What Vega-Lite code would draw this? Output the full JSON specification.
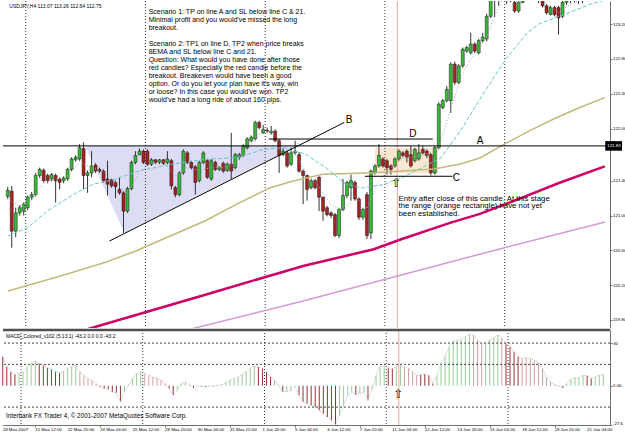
{
"$schema": "https://vega.github.io/schema/vega-lite/v6.json",
"padding": 0,
"background": "white",
"spacing": 2,
"bounds": "flush",
"config": {"view": {"stroke": null}, "font": "Liberation Sans", "axis": {"labelFont": "Liberation Sans", "labelFontSize": 4.4, "labelColor": "#000", "domainColor": "#707070", "tickColor": "#707070", "grid": false, "tickSize": 2, "labelPadding": 0.5, "labelOverlap": false}},
"datasets": {
"one": [{}],
"dates": [{"i":0,"t":"18 May 2007"},{"i":8,"t":"21 May 12:00"},{"i":16,"t":"22 May 20:00"},{"i":24,"t":"24 May 04:00"},{"i":32,"t":"25 May 12:00"},{"i":40,"t":"28 May 20:00"},{"i":48,"t":"30 May 04:00"},{"i":56,"t":"31 May 12:00"},{"i":64,"t":"1 Jun 20:00"},{"i":72,"t":"5 Jun 04:00"},{"i":80,"t":"6 Jun 12:00"},{"i":88,"t":"7 Jun 20:00"},{"i":96,"t":"11 Jun 04:00"},{"i":104,"t":"12 Jun 12:00"},{"i":112,"t":"13 Jun 20:00"},{"i":120,"t":"15 Jun 04:00"},{"i":128,"t":"18 Jun 12:00"},{"i":136,"t":"19 Jun 20:00"},{"i":144,"t":"21 Jun 04:00"}],
"candles": [
{"i":0,"o":121.22,"h":121.33,"l":121.19,"c":121.29},{"i":1,"o":121.28,"h":121.34,"l":120.63,"c":120.82},{"i":2,"o":120.82,"h":121.09,"l":120.75,"c":121.03},{"i":3,"o":121.03,"h":121.12,"l":121.0,"c":121.09},{"i":4,"o":121.05,"h":121.15,"l":121.0,"c":121.13},{"i":5,"o":121.09,"h":121.23,"l":121.06,"c":121.21},{"i":6,"o":121.21,"h":121.27,"l":121.18,"c":121.24},{"i":7,"o":121.24,"h":121.49,"l":121.22,"c":121.46},{"i":8,"o":121.46,"h":121.55,"l":121.43,"c":121.53},{"i":9,"o":121.52,"h":121.54,"l":121.38,"c":121.4},
{"i":10,"o":121.46,"h":121.48,"l":121.37,"c":121.4},{"i":11,"o":121.42,"h":121.49,"l":121.39,"c":121.47},{"i":12,"o":121.46,"h":121.48,"l":121.15,"c":121.4},{"i":13,"o":121.42,"h":121.44,"l":121.3,"c":121.38},{"i":14,"o":121.4,"h":121.45,"l":121.37,"c":121.43},{"i":15,"o":121.42,"h":121.55,"l":121.4,"c":121.53},{"i":16,"o":121.53,"h":121.67,"l":121.51,"c":121.65},{"i":17,"o":121.64,"h":121.69,"l":121.62,"c":121.67},{"i":18,"o":121.65,"h":121.82,"l":121.63,"c":121.78},{"i":19,"o":121.77,"h":121.84,"l":121.3,"c":121.46},
{"i":20,"o":121.46,"h":121.52,"l":121.26,"c":121.49},{"i":21,"o":121.49,"h":121.74,"l":121.44,"c":121.57},{"i":22,"o":121.58,"h":121.6,"l":121.49,"c":121.51},{"i":23,"o":121.53,"h":121.55,"l":121.49,"c":121.51},{"i":24,"o":121.51,"h":121.53,"l":121.38,"c":121.4},{"i":25,"o":121.42,"h":121.63,"l":121.23,"c":121.36},{"i":26,"o":121.41,"h":121.42,"l":121.32,"c":121.34},{"i":27,"o":121.38,"h":121.4,"l":121.2,"c":121.33},{"i":28,"o":121.3,"h":121.44,"l":121.24,"c":121.26},{"i":29,"o":121.26,"h":121.28,"l":120.8,"c":121.05},
{"i":30,"o":121.05,"h":121.33,"l":121.03,"c":121.31},{"i":31,"o":121.31,"h":121.63,"l":121.29,"c":121.61},{"i":32,"o":121.61,"h":121.74,"l":121.59,"c":121.69},{"i":33,"o":121.7,"h":121.77,"l":121.69,"c":121.74},{"i":34,"o":121.74,"h":121.76,"l":121.59,"c":121.61},{"i":35,"o":121.74,"h":121.76,"l":121.57,"c":121.59},{"i":36,"o":121.59,"h":121.66,"l":121.57,"c":121.64},{"i":37,"o":121.64,"h":121.65,"l":121.59,"c":121.61},{"i":38,"o":121.61,"h":121.65,"l":121.59,"c":121.64},{"i":39,"o":121.64,"h":121.65,"l":121.58,"c":121.6},
{"i":40,"o":121.61,"h":121.74,"l":121.59,"c":121.65},{"i":41,"o":121.63,"h":121.65,"l":121.3,"c":121.34},{"i":42,"o":121.32,"h":121.34,"l":121.21,"c":121.24},{"i":43,"o":121.24,"h":121.51,"l":121.22,"c":121.49},{"i":44,"o":121.49,"h":121.76,"l":121.47,"c":121.74},{"i":45,"o":121.72,"h":121.74,"l":121.59,"c":121.61},{"i":46,"o":121.61,"h":121.63,"l":121.53,"c":121.55},{"i":47,"o":121.56,"h":121.58,"l":121.24,"c":121.38},{"i":48,"o":121.4,"h":121.63,"l":121.38,"c":121.61},{"i":49,"o":121.61,"h":121.74,"l":121.59,"c":121.72},
{"i":50,"o":121.63,"h":121.65,"l":121.42,"c":121.44},{"i":51,"o":121.42,"h":121.65,"l":121.4,"c":121.63},{"i":52,"o":121.61,"h":121.63,"l":121.51,"c":121.53},{"i":53,"o":121.53,"h":121.57,"l":121.51,"c":121.55},{"i":54,"o":121.6,"h":121.62,"l":121.49,"c":121.51},{"i":55,"o":121.52,"h":121.61,"l":121.5,"c":121.59},{"i":56,"o":121.59,"h":121.95,"l":121.42,"c":121.51},{"i":57,"o":121.55,"h":121.72,"l":121.53,"c":121.7},{"i":58,"o":121.67,"h":121.72,"l":121.64,"c":121.7},{"i":59,"o":121.69,"h":121.82,"l":121.67,"c":121.8},
{"i":60,"o":121.78,"h":121.9,"l":121.76,"c":121.88},{"i":61,"o":121.86,"h":121.92,"l":121.84,"c":121.9},{"i":62,"o":121.88,"h":122.09,"l":121.86,"c":122.07},{"i":63,"o":122.07,"h":122.09,"l":121.99,"c":122.01},{"i":64,"o":121.95,"h":122.04,"l":121.94,"c":121.99},{"i":65,"o":121.98,"h":122.01,"l":121.95,"c":121.97},{"i":66,"o":121.95,"h":122.03,"l":121.93,"c":121.97},{"i":67,"o":121.97,"h":121.99,"l":121.84,"c":121.86},{"i":68,"o":121.86,"h":121.88,"l":121.49,"c":121.69},{"i":69,"o":121.7,"h":121.77,"l":121.68,"c":121.74},
{"i":70,"o":121.72,"h":121.75,"l":121.55,"c":121.57},{"i":71,"o":121.59,"h":121.78,"l":121.57,"c":121.72},{"i":72,"o":121.72,"h":121.86,"l":121.7,"c":121.74},{"i":73,"o":121.7,"h":121.73,"l":121.49,"c":121.51},{"i":74,"o":121.51,"h":121.53,"l":121.13,"c":121.46},{"i":75,"o":121.46,"h":121.47,"l":121.17,"c":121.3},{"i":76,"o":121.32,"h":121.42,"l":121.3,"c":121.4},{"i":77,"o":121.4,"h":121.42,"l":121.3,"c":121.32},{"i":78,"o":121.44,"h":121.45,"l":121.05,"c":121.21},{"i":79,"o":121.21,"h":121.22,"l":120.94,"c":121.05},
{"i":80,"o":121.09,"h":121.11,"l":120.99,"c":121.01},{"i":81,"o":121.03,"h":121.05,"l":120.97,"c":121.0},{"i":82,"o":121.01,"h":121.03,"l":120.75,"c":120.77},{"i":83,"o":120.77,"h":121.09,"l":120.74,"c":121.07},{"i":84,"o":121.07,"h":121.42,"l":121.05,"c":121.23},{"i":85,"o":121.23,"h":121.4,"l":121.2,"c":121.38},{"i":86,"o":121.32,"h":121.47,"l":121.17,"c":121.4},{"i":87,"o":121.38,"h":121.4,"l":121.17,"c":121.19},{"i":88,"o":121.19,"h":121.21,"l":120.95,"c":120.98},{"i":89,"o":120.98,"h":121.09,"l":120.95,"c":121.07},
{"i":90,"o":121.24,"h":121.27,"l":120.73,"c":120.77},{"i":91,"o":120.8,"h":121.53,"l":120.73,"c":121.51},{"i":92,"o":121.49,"h":121.59,"l":121.47,"c":121.57},{"i":93,"o":121.57,"h":121.82,"l":121.55,"c":121.69},{"i":94,"o":121.65,"h":121.67,"l":121.55,"c":121.57},{"i":95,"o":121.63,"h":121.65,"l":121.47,"c":121.55},{"i":96,"o":121.57,"h":121.59,"l":121.47,"c":121.53},{"i":97,"o":121.57,"h":121.67,"l":121.55,"c":121.65},{"i":98,"o":121.65,"h":121.76,"l":121.63,"c":121.74},{"i":99,"o":121.72,"h":121.74,"l":121.67,"c":121.69},
{"i":100,"o":121.74,"h":121.76,"l":121.61,"c":121.67},{"i":101,"o":121.7,"h":121.8,"l":121.55,"c":121.57},{"i":102,"o":121.63,"h":121.78,"l":121.61,"c":121.76},{"i":103,"o":121.65,"h":121.82,"l":121.63,"c":121.72},{"i":104,"o":121.76,"h":121.8,"l":121.7,"c":121.72},{"i":105,"o":121.74,"h":121.76,"l":121.66,"c":121.69},{"i":106,"o":121.7,"h":121.72,"l":121.46,"c":121.49},{"i":107,"o":121.49,"h":121.8,"l":121.47,"c":121.78},{"i":108,"o":121.78,"h":122.3,"l":121.76,"c":122.28},{"i":109,"o":122.24,"h":122.34,"l":122.22,"c":122.32},
{"i":110,"o":122.32,"h":122.49,"l":122.3,"c":122.45},{"i":111,"o":122.32,"h":122.76,"l":122.18,"c":122.74},{"i":112,"o":122.74,"h":122.77,"l":122.5,"c":122.53},{"i":113,"o":122.53,"h":122.74,"l":122.51,"c":122.72},{"i":114,"o":122.72,"h":122.93,"l":122.7,"c":122.91},{"i":115,"o":122.89,"h":122.95,"l":122.87,"c":122.93},{"i":116,"o":122.87,"h":123.1,"l":122.85,"c":122.97},{"i":117,"o":122.97,"h":122.99,"l":122.87,"c":122.89},{"i":118,"o":122.87,"h":123.03,"l":122.85,"c":123.01},{"i":119,"o":123.01,"h":123.1,"l":122.99,"c":123.05},
{"i":120,"o":123.03,"h":123.32,"l":123.0,"c":123.29},{"i":121,"o":123.29,"h":123.55,"l":123.27,"c":123.5},{"i":122,"o":123.5,"h":123.62,"l":123.28,"c":123.58},{"i":123,"o":123.58,"h":123.7,"l":123.41,"c":123.62},{"i":124,"o":123.62,"h":123.78,"l":123.55,"c":123.7},{"i":125,"o":123.7,"h":123.74,"l":123.43,"c":123.6},{"i":126,"o":123.6,"h":123.66,"l":123.45,"c":123.47},{"i":127,"o":123.45,"h":123.5,"l":123.33,"c":123.35},{"i":128,"o":123.35,"h":123.52,"l":123.33,"c":123.45},{"i":129,"o":123.45,"h":123.6,"l":123.44,"c":123.55},
{"i":130,"o":123.55,"h":123.66,"l":123.5,"c":123.62},{"i":131,"o":123.62,"h":123.68,"l":123.52,"c":123.58},{"i":132,"o":123.58,"h":123.62,"l":123.48,"c":123.52},{"i":133,"o":123.52,"h":123.6,"l":123.44,"c":123.5},{"i":134,"o":123.48,"h":123.52,"l":123.39,"c":123.41},{"i":135,"o":123.41,"h":123.43,"l":123.31,"c":123.33},{"i":136,"o":123.31,"h":123.41,"l":123.3,"c":123.39},{"i":137,"o":123.39,"h":123.41,"l":123.29,"c":123.31},{"i":138,"o":123.39,"h":123.41,"l":123.08,"c":123.27},{"i":139,"o":123.29,"h":123.5,"l":123.27,"c":123.45},
{"i":140,"o":123.45,"h":123.55,"l":123.42,"c":123.5},{"i":141,"o":123.5,"h":123.56,"l":123.44,"c":123.48},{"i":142,"o":123.48,"h":123.58,"l":123.45,"c":123.52},{"i":143,"o":123.52,"h":123.55,"l":123.43,"c":123.47},{"i":144,"o":123.47,"h":123.56,"l":123.44,"c":123.51},{"i":145,"o":123.51,"h":123.6,"l":123.47,"c":123.55},{"i":146,"o":123.55,"h":123.6,"l":123.48,"c":123.52},{"i":147,"o":123.52,"h":123.62,"l":123.49,"c":123.56},{"i":148,"o":123.56,"h":123.63,"l":123.52,"c":123.58}
],
"macd": [
{"i":0,"v":20.4,"k":"dn"},{"i":1,"v":13.3,"k":"dn"},{"i":2,"v":9.8,"k":"dn"},{"i":3,"v":8.0,"k":"dn"},{"i":4,"v":8.6,"k":"up"},{"i":5,"v":9.8,"k":"up"},{"i":6,"v":13.3,"k":"up"},{"i":7,"v":15.7,"k":"up"},{"i":8,"v":17.3,"k":"up"},{"i":9,"v":15.7,"k":"dn"},
{"i":10,"v":14.5,"k":"dn"},{"i":11,"v":12.6,"k":"dn"},{"i":12,"v":11.4,"k":"dn"},{"i":13,"v":9.8,"k":"dn"},{"i":14,"v":9.1,"k":"dn"},{"i":15,"v":10.3,"k":"up"},{"i":16,"v":12.1,"k":"up"},{"i":17,"v":13.3,"k":"up"},{"i":18,"v":14.5,"k":"up"},{"i":19,"v":9.8,"k":"dn2"},
{"i":20,"v":7.4,"k":"dn2"},{"i":21,"v":5.1,"k":"dn2"},{"i":22,"v":3.9,"k":"dn2"},{"i":23,"v":1.5,"k":"dn2"},{"i":24,"v":-0.8,"k":"dn"},{"i":25,"v":-2.0,"k":"dn"},{"i":26,"v":-2.5,"k":"dn"},{"i":27,"v":-4.4,"k":"dn"},{"i":28,"v":-5.0,"k":"dn"},{"i":29,"v":-11.4,"k":"dn"},
{"i":30,"v":-4.4,"k":"up"},{"i":31,"v":0.4,"k":"up"},{"i":32,"v":5.1,"k":"up"},{"i":33,"v":8.6,"k":"up"},{"i":34,"v":9.8,"k":"up"},{"i":35,"v":8.6,"k":"dn2"},{"i":36,"v":7.4,"k":"dn2"},{"i":37,"v":6.2,"k":"dn2"},{"i":38,"v":5.5,"k":"dn2"},{"i":39,"v":3.9,"k":"dn2"},
{"i":40,"v":1.5,"k":"dn2"},{"i":41,"v":-2.0,"k":"dn"},{"i":42,"v":-6.7,"k":"dn"},{"i":43,"v":-3.2,"k":"up"},{"i":44,"v":1.5,"k":"up"},{"i":45,"v":2.7,"k":"up"},{"i":46,"v":0.8,"k":"dn2"},{"i":47,"v":-1.5,"k":"dn"},{"i":48,"v":-0.1,"k":"up"},{"i":49,"v":-0.4,"k":"dn"},
{"i":50,"v":-0.8,"k":"dn"},{"i":51,"v":-0.1,"k":"up"},{"i":52,"v":-0.4,"k":"dn"},{"i":53,"v":0.4,"k":"up"},{"i":54,"v":0.8,"k":"up"},{"i":55,"v":2.2,"k":"up"},{"i":56,"v":3.9,"k":"up"},{"i":57,"v":5.1,"k":"up"},{"i":58,"v":6.2,"k":"up"},{"i":59,"v":7.9,"k":"up"},
{"i":60,"v":9.8,"k":"up"},{"i":61,"v":12.1,"k":"up"},{"i":62,"v":14.0,"k":"up"},{"i":63,"v":13.3,"k":"dn"},{"i":64,"v":12.1,"k":"dn"},{"i":65,"v":9.8,"k":"dn"},{"i":66,"v":6.2,"k":"dn"},{"i":67,"v":3.9,"k":"dn2"},{"i":68,"v":0.4,"k":"dn2"},{"i":69,"v":-4.4,"k":"dn"},
{"i":70,"v":-4.0,"k":"up"},{"i":71,"v":-3.5,"k":"up"},{"i":72,"v":-0.8,"k":"up"},{"i":73,"v":-6.7,"k":"dn"},{"i":74,"v":-11.4,"k":"dn"},{"i":75,"v":-12.6,"k":"dn"},{"i":76,"v":-13.8,"k":"dn"},{"i":77,"v":-15.0,"k":"dn"},{"i":78,"v":-17.3,"k":"dn"},{"i":79,"v":-19.7,"k":"dn"},
{"i":80,"v":-22.1,"k":"dn"},{"i":81,"v":-24.4,"k":"dn"},{"i":82,"v":-27.2,"k":"dn"},{"i":83,"v":-20.9,"k":"up"},{"i":84,"v":-13.8,"k":"up"},{"i":85,"v":-6.7,"k":"up"},{"i":86,"v":-4.6,"k":"up"},{"i":87,"v":-6.2,"k":"dn"},{"i":88,"v":-5.5,"k":"up"},{"i":89,"v":-4.4,"k":"up"},
{"i":90,"v":-10.3,"k":"dn"},{"i":91,"v":-2.0,"k":"up"},{"i":92,"v":7.4,"k":"up"},{"i":93,"v":13.3,"k":"up"},{"i":94,"v":14.0,"k":"up"},{"i":95,"v":12.6,"k":"dn"},{"i":96,"v":12.1,"k":"dn"},{"i":97,"v":13.3,"k":"up"},{"i":98,"v":14.0,"k":"up"},{"i":99,"v":13.3,"k":"dn2"},
{"i":100,"v":12.1,"k":"dn2"},{"i":101,"v":9.8,"k":"dn2"},{"i":102,"v":7.4,"k":"dn2"},{"i":103,"v":7.6,"k":"dn"},{"i":104,"v":8.2,"k":"dn"},{"i":105,"v":7.4,"k":"dn"},{"i":106,"v":1.5,"k":"dn"},{"i":107,"v":7.4,"k":"up"},{"i":108,"v":15.7,"k":"up"},{"i":109,"v":20.4,"k":"up"},
{"i":110,"v":27.5,"k":"up"},{"i":111,"v":31.5,"k":"up"},{"i":112,"v":31.8,"k":"up"},{"i":113,"v":32.2,"k":"up"},{"i":114,"v":34.6,"k":"up"},{"i":115,"v":36.2,"k":"up"},{"i":116,"v":35.7,"k":"dn2"},{"i":117,"v":32.2,"k":"dn2"},{"i":118,"v":29.8,"k":"dn2"},{"i":119,"v":30.2,"k":"up"},
{"i":120,"v":32.2,"k":"up"},{"i":121,"v":33.9,"k":"up"},{"i":122,"v":35.7,"k":"up"},{"i":123,"v":33.4,"k":"dn2"},{"i":124,"v":29.8,"k":"dn"},{"i":125,"v":27.5,"k":"dn"},{"i":126,"v":23.9,"k":"dn"},{"i":127,"v":20.4,"k":"dn"},{"i":128,"v":19.2,"k":"dn2"},{"i":129,"v":19.8,"k":"dn2"},
{"i":130,"v":19.2,"k":"dn2"},{"i":131,"v":18.0,"k":"dn2"},{"i":132,"v":16.4,"k":"dn2"},{"i":133,"v":12.1,"k":"dn2"},{"i":134,"v":6.2,"k":"dn2"},{"i":135,"v":2.7,"k":"dn2"},{"i":136,"v":0.8,"k":"dn2"},{"i":137,"v":-0.3,"k":"dn2"},{"i":138,"v":-1.5,"k":"dn"},{"i":139,"v":1.5,"k":"up"},
{"i":140,"v":4.6,"k":"up"},{"i":141,"v":5.5,"k":"up"},{"i":142,"v":5.7,"k":"up"},{"i":143,"v":7.4,"k":"up"},{"i":144,"v":7.0,"k":"dn"},{"i":145,"v":5.1,"k":"dn"},{"i":146,"v":6.2,"k":"up"},{"i":147,"v":7.4,"k":"up"},{"i":148,"v":7.8,"k":"up"}
],
"ema8": [
{"i":0,"p":121.2},{"i":3,"p":121.1},{"i":6,"p":121.17},{"i":9,"p":121.38},{"i":12,"p":121.42},{"i":15,"p":121.45},{"i":18,"p":121.62},{"i":21,"p":121.55},{"i":24,"p":121.5},{"i":27,"p":121.38},{"i":30,"p":121.25},{"i":33,"p":121.5},{"i":36,"p":121.6},{"i":39,"p":121.62},{"i":42,"p":121.45},{"i":45,"p":121.55},{"i":48,"p":121.52},{"i":51,"p":121.55},{"i":54,"p":121.55},{"i":57,"p":121.6},{"i":60,"p":121.75},{"i":63,"p":121.93},{"i":66,"p":121.97},{"i":69,"p":121.82},{"i":72,"p":121.7},{"i":75,"p":121.48},{"i":78,"p":121.33},{"i":81,"p":121.12},{"i":84,"p":121.05},{"i":87,"p":121.22},{"i":90,"p":121.08},{"i":93,"p":121.4},{"i":96,"p":121.55},{"i":99,"p":121.66},{"i":102,"p":121.68},{"i":105,"p":121.7},{"i":108,"p":121.77},{"i":110,"p":122.08},{"i":112,"p":122.37},{"i":114,"p":122.63},{"i":116,"p":122.8},{"i":118,"p":122.9},{"i":120,"p":123.05},{"i":122,"p":123.3},{"i":124,"p":123.48},{"i":126,"p":123.52},{"i":128,"p":123.45},{"i":130,"p":123.5},{"i":132,"p":123.54},{"i":134,"p":123.48},{"i":136,"p":123.4},{"i":138,"p":123.33},{"i":140,"p":123.4},{"i":142,"p":123.45},{"i":144,"p":123.48},{"i":146,"p":123.52},{"i":148,"p":123.55}
],
"ema21": [
{"i":0.06,"p":120.765},{"i":5,"p":120.86},{"i":9.9,"p":121.052},{"i":16.5,"p":121.244},{"i":21.4,"p":121.359},{"i":27.2,"p":121.42},{"i":32.8,"p":121.512},{"i":41.1,"p":121.589},{"i":49.3,"p":121.646},{"i":57.5,"p":121.665},{"i":64.1,"p":121.761},{"i":69.1,"p":121.78},{"i":74.7,"p":121.704},{"i":79.7,"p":121.55},{"i":84.6,"p":121.363},{"i":88.8,"p":121.317},{"i":93.7,"p":121.351},{"i":98.6,"p":121.432},{"i":103.6,"p":121.546},{"i":108.5,"p":121.661},{"i":113.4,"p":121.972},{"i":119.1,"p":122.397},{"i":125,"p":122.811},{"i":129.9,"p":123.087},{"i":133.1,"p":123.202},{"i":139.8,"p":123.317},{"i":146.2,"p":123.432},{"i":149.6,"p":123.477}
],
"olive": [
{"i":0.06,"p":120.133},{"i":12.4,"p":120.294},{"i":24.7,"p":120.466},{"i":32.1,"p":120.592},{"i":40.7,"p":120.765},{"i":49.4,"p":120.937},{"i":57.5,"p":121.133},{"i":65.6,"p":121.317},{"i":71.5,"p":121.397},{"i":78.9,"p":121.474},{"i":92,"p":121.492},{"i":106.8,"p":121.535},{"i":113.4,"p":121.592},{"i":118.3,"p":121.661},{"i":125,"p":121.834},{"i":130.7,"p":121.972},{"i":137.3,"p":122.121},{"i":143,"p":122.236},{"i":149.6,"p":122.355}
],
"magenta": [
{"i":14.85,"p":119.627},{"i":21,"p":119.707},{"i":49.3,"p":120.087},{"i":74,"p":120.42},{"i":91.7,"p":120.612},{"i":98.6,"p":120.727},{"i":111,"p":120.918},{"i":118.3,"p":121.018},{"i":128.9,"p":121.205},{"i":138.1,"p":121.374},{"i":148.7,"p":121.55},{"i":149.6,"p":121.564}
],
"plum": [
{"i":39.5,"p":119.615},{"i":46.9,"p":119.707},{"i":74,"p":120.018},{"i":98.6,"p":120.317},{"i":123.3,"p":120.616},{"i":148.7,"p":120.914},{"i":149.6,"p":120.926}
],
"weeks": [{"sep":4.5},{"sep":34.5},{"sep":64.5},{"sep":94.5},{"sep":124.5}]
},
"vconcat": [
{
"width": 607, "height": 327,
"layer": [
{"data": {"values": [{"i":19.4,"p":121.8},{"i":29.2,"p":120.802},{"i":72.3,"p":121.8}]},
 "mark": {"type": "area", "color": "#dcdcf4", "clip": true},
 "encoding": {"x": {"field": "i", "type": "quantitative", "scale": {"domain": [0.064, 149.64], "nice": false, "zero": false}, "axis": null, "title": null},
  "y": {"field": "p", "type": "quantitative", "scale": {"domain": [119.707, 123.4655], "nice": false, "zero": false}, "title": null,
   "axis": {"orient": "right", "title": null, "labelOverlap": false, "values": [119.8,120.0,120.2,120.4,120.6,120.8,121.0,121.2,121.4,121.6,122.0,122.2,122.4,122.6,122.8,123.0,123.2,123.4], "format": ".2f"}},
  "y2": {"datum": 121.8}}},
{"data": {"name": "one"}, "mark": {"type": "rect", "color": "#fbe7d0"},
 "encoding": {"x": {"datum": 92, "axis": null}, "x2": {"datum": 107.8}, "y": {"datum": 121.779}, "y2": {"datum": 121.483}}},
{"data": {"name": "weeks"}, "mark": {"type": "rule", "color": "#303030", "strokeDash": [1, 2], "strokeWidth": 1},
 "encoding": {"x": {"field": "sep", "type": "quantitative", "axis": null, "title": null}}},
{"data": {"name": "one"}, "mark": {"type": "rule", "color": "#e6a898", "strokeWidth": 1},
 "encoding": {"x": {"datum": 97.6, "axis": null}}},
{"data": {"name": "candles"}, "mark": {"type": "rule", "color": "#333333", "strokeWidth": 1, "clip": true},
 "encoding": {"x": {"field": "i", "type": "quantitative", "axis": null, "title": null}, "y": {"field": "l", "type": "quantitative", "title": null}, "y2": {"field": "h"}}},
{"data": {"name": "candles"}, "mark": {"type": "bar", "size": 3, "stroke": "#1a1a1a", "strokeWidth": 0.5, "clip": true},
 "encoding": {"x": {"field": "i", "type": "quantitative", "axis": null, "title": null}, "y": {"field": "o", "type": "quantitative", "title": null}, "y2": {"field": "c"},
  "color": {"condition": {"test": "datum.c >= datum.o", "value": "#2fbf2f"}, "value": "#b01e1e"}}},
{"data": {"name": "plum"}, "mark": {"type": "line", "color": "#d49ad4", "strokeWidth": 1.5, "clip": true},
 "encoding": {"x": {"field": "i", "type": "quantitative", "axis": null, "title": null}, "y": {"field": "p", "type": "quantitative", "title": null}}},
{"data": {"name": "magenta"}, "mark": {"type": "line", "color": "#cc0066", "strokeWidth": 2.5, "clip": true},
 "encoding": {"x": {"field": "i", "type": "quantitative", "axis": null, "title": null}, "y": {"field": "p", "type": "quantitative", "title": null}}},
{"data": {"name": "olive"}, "mark": {"type": "line", "color": "#c2b97a", "strokeWidth": 1.5, "clip": true},
 "encoding": {"x": {"field": "i", "type": "quantitative", "axis": null, "title": null}, "y": {"field": "p", "type": "quantitative", "title": null}}},
{"data": {"name": "ema21"}, "mark": {"type": "line", "color": "#66c8cc", "strokeWidth": 1, "strokeDash": [4, 2], "clip": true},
 "encoding": {"x": {"field": "i", "type": "quantitative", "axis": null, "title": null}, "y": {"field": "p", "type": "quantitative", "title": null}}},
{"data": {"name": "ema8"}, "mark": {"type": "line", "color": "#a8a8a8", "strokeWidth": 1, "strokeDash": [1, 2], "clip": true},
 "encoding": {"x": {"field": "i", "type": "quantitative", "axis": null, "title": null}, "y": {"field": "p", "type": "quantitative", "title": null}}},
{"data": {"name": "one"}, "mark": {"type": "rule", "color": "#000000", "strokeWidth": 1},
 "encoding": {"y": {"datum": 121.8}}},
{"data": {"name": "one"}, "mark": {"type": "rule", "color": "#000000", "strokeWidth": 1},
 "encoding": {"x": {"datum": 65.4, "axis": null}, "x2": {"datum": 106.5}, "y": {"datum": 121.879}}},
{"data": {"name": "one"}, "mark": {"type": "rule", "color": "#000000", "strokeWidth": 1},
 "encoding": {"x": {"datum": 89.5, "axis": null}, "x2": {"datum": 111.4}, "y": {"datum": 121.451}}},
{"data": {"name": "one"}, "mark": {"type": "rule", "color": "#000000", "strokeWidth": 1},
 "encoding": {"x": {"datum": 25.5, "axis": null}, "x2": {"datum": 84.3}, "y": {"datum": 120.707}, "y2": {"datum": 122.069}}},
{"data": {"name": "one"}, "mark": {"type": "text", "text": "USDJPY,H4 113.07 113.26 112.64 112.75", "align": "left", "baseline": "middle", "fontSize": 5, "color": "#000"},
 "encoding": {"x": {"datum": 0.4, "axis": null}, "y": {"datum": 123.41}}},
{"data": {"name": "one"}, "mark": {"type": "text", "align": "left", "baseline": "top", "fontSize": 7, "lineHeight": 8, "color": "#000",
  "text": ["Scenario 1: TP on line A and SL below line C & 21.", "Minimal profit and you would've missed the long", "breakout."]},
 "encoding": {"x": {"datum": 35.3, "axis": null}, "y": {"datum": 123.385}}},
{"data": {"name": "one"}, "mark": {"type": "text", "align": "left", "baseline": "top", "fontSize": 7, "lineHeight": 8, "color": "#000",
  "text": ["Scenario 2: TP1 on line D, TP2 when price breaks", "8EMA and SL below line C and 21.", "Question: What would you have done after those", "red candles? Especially the red candle before the", "breakout. Breakeven would have been a good", "option. Or do you let your plan have it's way, win", "or loose? In this case you would've won. TP2", "would've had a long ride of about 160 pips."]},
 "encoding": {"x": {"datum": 35.3, "axis": null}, "y": {"datum": 123.017}}},
{"data": {"name": "one"}, "mark": {"type": "text", "align": "left", "baseline": "top", "fontSize": 7.8, "lineHeight": 7.6, "color": "#000",
  "text": ["Entry after close of this candle. At this stage", "the range (orange rectangle) have not yet", "been established."]},
 "encoding": {"x": {"datum": 97.9, "axis": null}, "y": {"datum": 121.238}}},
{"data": {"name": "one"}, "mark": {"type": "text", "text": "A", "align": "center", "baseline": "middle", "fontSize": 10, "color": "#000"},
 "encoding": {"x": {"datum": 118.35, "axis": null}, "y": {"datum": 121.86}}},
{"data": {"name": "one"}, "mark": {"type": "text", "text": "B", "align": "center", "baseline": "middle", "fontSize": 10, "color": "#000"},
 "encoding": {"x": {"datum": 85.5, "axis": null}, "y": {"datum": 122.094}}},
{"data": {"name": "one"}, "mark": {"type": "text", "text": "C", "align": "center", "baseline": "middle", "fontSize": 10, "color": "#000"},
 "encoding": {"x": {"datum": 112.4, "axis": null}, "y": {"datum": 121.434}}},
{"data": {"name": "one"}, "mark": {"type": "text", "text": "D", "align": "center", "baseline": "middle", "fontSize": 10, "color": "#000"},
 "encoding": {"x": {"datum": 101.5, "axis": null}, "y": {"datum": 121.94}}},
{"data": {"name": "one"}, "mark": {"type": "text", "text": "⇧", "align": "center", "baseline": "middle", "fontSize": 12, "font": "DejaVu Sans", "color": "#000"},
 "encoding": {"x": {"datum": 97.4, "axis": null}, "y": {"datum": 121.368}}},
{"data": {"name": "one"}, "mark": {"type": "rect", "color": "#000000"},
 "encoding": {"x": {"datum": 149.7, "axis": null}, "x2": {"datum": 153.9}, "y": {"datum": 121.855}, "y2": {"datum": 121.745}}},
{"data": {"name": "one"}, "mark": {"type": "text", "text": "121.83", "align": "left", "baseline": "middle", "fontSize": 4.4, "color": "#ffffff"},
 "encoding": {"x": {"datum": 150.2, "axis": null}, "y": {"datum": 121.8}}}
]
},
{
"width": 607, "height": 95,
"layer": [
{"data": {"name": "macd"}, "mark": {"type": "rule", "strokeWidth": 1},
 "encoding": {"x": {"field": "i", "type": "quantitative", "title": null, "scale": {"domain": [0.064, 149.64], "nice": false, "zero": false},
   "axis": {"title": null, "values": [0,8,16,24,32,40,48,56,64,72,80,88,96,104,112,120,128,136,144], "labels": false, "tickSize": 2}},
  "y": {"field": "v", "type": "quantitative", "title": null, "scale": {"domain": [-27.6, 39.2], "nice": false, "zero": false},
   "axis": {"orient": "right", "title": null, "labelOverlap": false, "values": [39.2, 30, 15, 0, -15, -27.6],
    "labelExpr": "datum.value == 0 ? '0.00' : datum.value > 39 ? '39.2' : datum.value < -27 ? '-27.6' : format(datum.value, 'd')",
    "labelBaseline": {"condition": [{"test": "datum.value > 39", "value": "top"}, {"test": "datum.value < -27", "value": "bottom"}], "value": "middle"}}},
  "y2": {"datum": 0},
  "color": {"field": "k", "type": "nominal", "legend": null, "scale": {"domain": ["up", "dn", "dn2"], "range": ["#99cc99", "#993333", "#d4a0a0"]}}}},
{"data": {"values": [{"lv": 30}, {"lv": 15}, {"lv": -15}]}, "mark": {"type": "rule", "color": "#404040", "strokeDash": [2, 2], "strokeWidth": 1},
 "encoding": {"y": {"field": "lv", "type": "quantitative", "title": null}}},
{"data": {"name": "weeks"}, "mark": {"type": "rule", "color": "#303030", "strokeDash": [1, 2], "strokeWidth": 1},
 "encoding": {"x": {"field": "sep", "type": "quantitative", "title": null}}},
{"data": {"name": "one"}, "mark": {"type": "rule", "color": "#e6a898", "strokeWidth": 1},
 "encoding": {"x": {"datum": 97.6}}},
{"data": {"name": "macd"}, "mark": {"type": "line", "color": "#c0c0c0", "strokeWidth": 1, "strokeDash": [1, 1]},
 "encoding": {"x": {"field": "i", "type": "quantitative", "title": null}, "y": {"field": "v", "type": "quantitative", "title": null}}},
{"data": {"name": "one"}, "mark": {"type": "rule", "color": "#505050", "strokeWidth": 2.5},
 "encoding": {"y": {"datum": 39.2}}},
{"data": {"name": "one"}, "mark": {"type": "text", "text": "⇧", "align": "center", "baseline": "middle", "fontSize": 12, "font": "DejaVu Sans", "color": "#000"},
 "encoding": {"x": {"datum": 97.5}, "y": {"datum": -5.8}}},
{"data": {"name": "one"}, "mark": {"type": "text", "text": "MACD_Colored_v102 (5,13,1) -43.2 0.0 0.0 -43.2", "align": "left", "baseline": "middle", "fontSize": 5, "color": "#000"},
 "encoding": {"x": {"datum": 0.8}, "y": {"datum": 35.0}}},
{"data": {"name": "one"}, "mark": {"type": "text", "text": "Interbank FX Trader 4, © 2001-2007 MetaQuotes Software Corp.", "align": "left", "baseline": "middle", "fontSize": 6.3, "color": "#000"},
 "encoding": {"x": {"datum": 0.8}, "y": {"datum": -21.3}}},
{"data": {"name": "dates"}, "mark": {"type": "text", "align": "left", "baseline": "top", "fontSize": 4.4, "dy": 2.5, "color": "#000"},
 "encoding": {"x": {"field": "i", "type": "quantitative", "title": null}, "y": {"datum": -27.6}, "text": {"field": "t"}}}
]
}
]
}
